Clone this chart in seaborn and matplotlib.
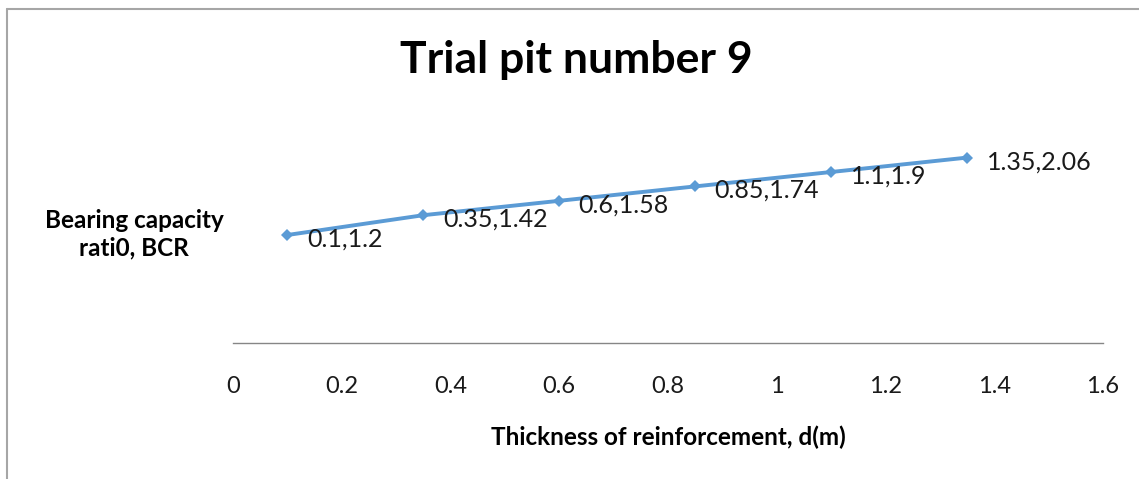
import matplotlib
matplotlib.use("Agg")
import matplotlib.pyplot as plt
import seaborn as sns
import pandas as pd
from matplotlib.lines import Line2D

# --- data ---
thickness = [0.1, 0.35, 0.6, 0.85, 1.1, 1.35]
bcr = [1.2, 1.42, 1.58, 1.74, 1.9, 2.06]
point_labels = ["0.1,1.2", "0.35,1.42", "0.6,1.58", "0.85,1.74", "1.1,1.9", "1.35,2.06"]
x_ticks = [0, 0.2, 0.4, 0.6, 0.8, 1, 1.2, 1.4, 1.6]
x_tick_labels = ["0", "0.2", "0.4", "0.6", "0.8", "1", "1.2", "1.4", "1.6"]

title = "Trial pit number 9"
x_title = "Thickness of reinforcement, d(m)"
y_title = "Bearing capacity\nrati0, BCR"

df = pd.DataFrame({"d": thickness, "BCR": bcr})

sns.set_style("white")
plt.rcParams["font.family"] = ["Lato", "DejaVu Sans"]

fig = plt.figure(figsize=(11.39, 4.79), dpi=100)
ax = fig.add_axes([233 / 1139, 1 - 343 / 479, 870 / 1139, 225 / 479])

sns.lineplot(data=df, x="d", y="BCR", ax=ax, color="#5B9BD5", linewidth=2.8,
             marker="D", markersize=6, markeredgewidth=0)

# data labels to the right of each point, as in the spreadsheet chart
for xv, yv, lab in zip(thickness, bcr, point_labels):
    ax.annotate(lab, (xv, yv), xytext=(14, -3), textcoords="offset points",
                ha="left", va="center", fontsize=18, color="#1a1a1a")

ax.set_xlim(0, 1.6)
ax.set_ylim(0, 2.5)
ax.set_xticks(x_ticks)
ax.set_xticklabels(x_tick_labels, fontsize=17, color="#1a1a1a")
ax.set_yticks([])
ax.tick_params(axis="x", length=0, pad=24)
for side in ["top", "right", "left"]:
    ax.spines[side].set_visible(False)
ax.spines["bottom"].set_color("#868686")
ax.spines["bottom"].set_linewidth(1.0)
ax.set_xlabel("")
ax.set_ylabel("")

fig.text(576 / 1139, 1 - 60 / 479, title, ha="center", va="center",
         fontsize=32, fontweight="bold", color="black")
fig.text(668 / 1139, 1 - 437 / 479, x_title, ha="center", va="center",
         fontsize=17.5, fontweight="bold", color="black")
fig.text(134 / 1139, 1 - 234 / 479, y_title, ha="center", va="center",
         fontsize=17.5, fontweight="bold", color="black", linespacing=1.25)

# chart area border (only left and top edges visible in the crop)
fig.add_artist(Line2D([6.5 / 1139, 6.5 / 1139], [0, 1 - 8.5 / 479],
                      transform=fig.transFigure, color="#A6A6A6", linewidth=1.5))
fig.add_artist(Line2D([6.5 / 1139, 1], [1 - 8.5 / 479, 1 - 8.5 / 479],
                      transform=fig.transFigure, color="#A6A6A6", linewidth=1.5))

fig.savefig("out.png", dpi=100, facecolor="white")
